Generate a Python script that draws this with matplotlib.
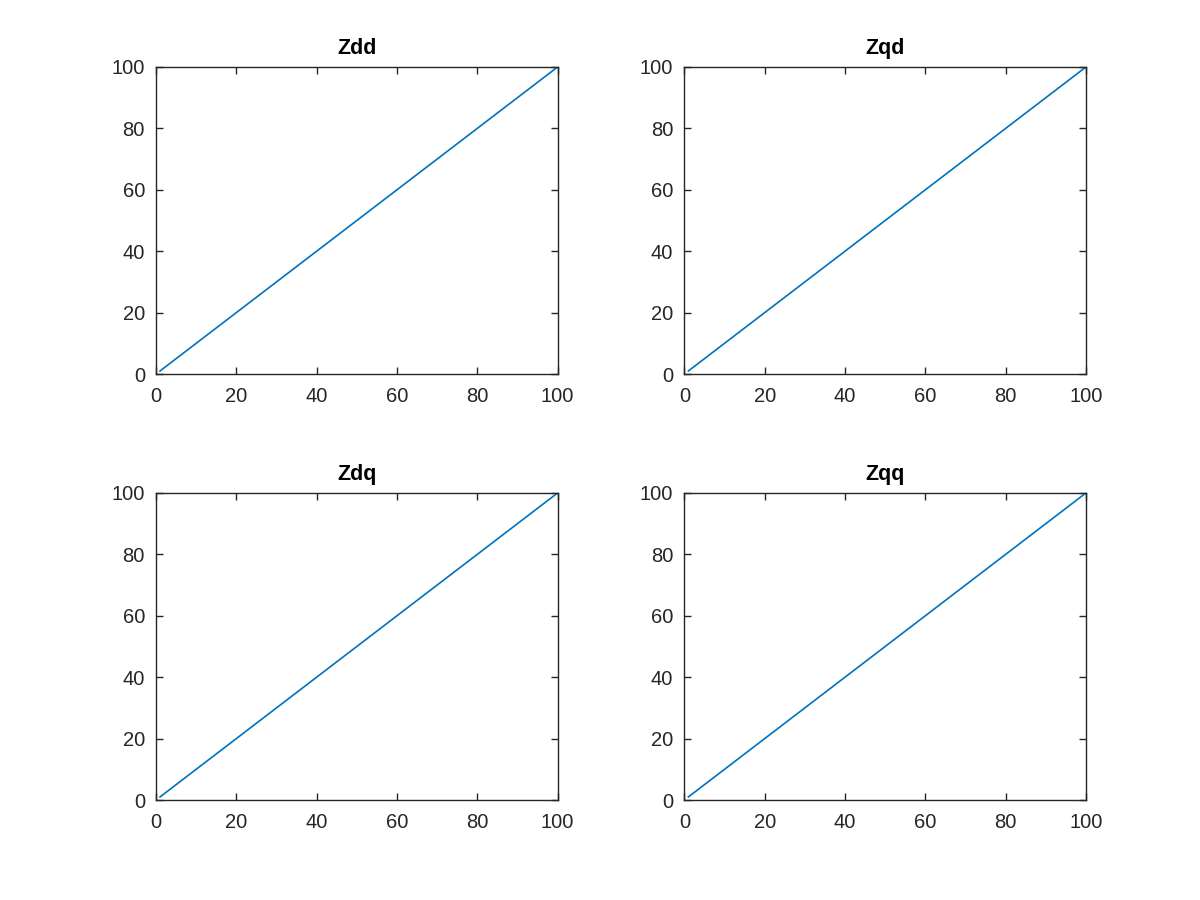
import matplotlib
matplotlib.use('Agg')
from matplotlib import pyplot as plt

plt.rcParams['font.family'] = ['Liberation Sans', 'DejaVu Sans']

titles = ['Zdd', 'Zqd', 'Zdq', 'Zqq']
x_vals = [1, 100]
y_vals = [1, 100]
ticks = [0, 20, 40, 60, 80, 100]

ax_col = '#262626'
line_col = '#0072BD'

fig = plt.figure(figsize=(12, 9), dpi=100)

# subplot positions (left, bottom, width, height) like matlab 2x2
pos = [
    (0.13, 0.5844, 0.3347, 0.3412),
    (0.5703, 0.5844, 0.3347, 0.3412),
    (0.13, 0.1111, 0.3347, 0.3412),
    (0.5703, 0.1111, 0.3347, 0.3412),
]

for i, name in enumerate(titles):
    ax = fig.add_axes(pos[i])
    ax.plot(x_vals, y_vals, color=line_col, linewidth=1.2)
    ax.set_xlim(0, 100)
    ax.set_ylim(0, 100)
    ax.set_xticks(ticks)
    ax.set_yticks(ticks)
    ax.tick_params(direction='in', top=True, right=True, length=5, width=1,
                   colors=ax_col, labelsize=14.5)
    ax.tick_params(axis='x', pad=9)
    ax.tick_params(axis='y', pad=8)
    for s in ax.spines.values():
        s.set_color(ax_col)
        s.set_linewidth(1)
    ax.set_title(name, fontsize=15.5, fontweight='bold', color='black', pad=9)

fig.savefig('out.png', dpi=100)
